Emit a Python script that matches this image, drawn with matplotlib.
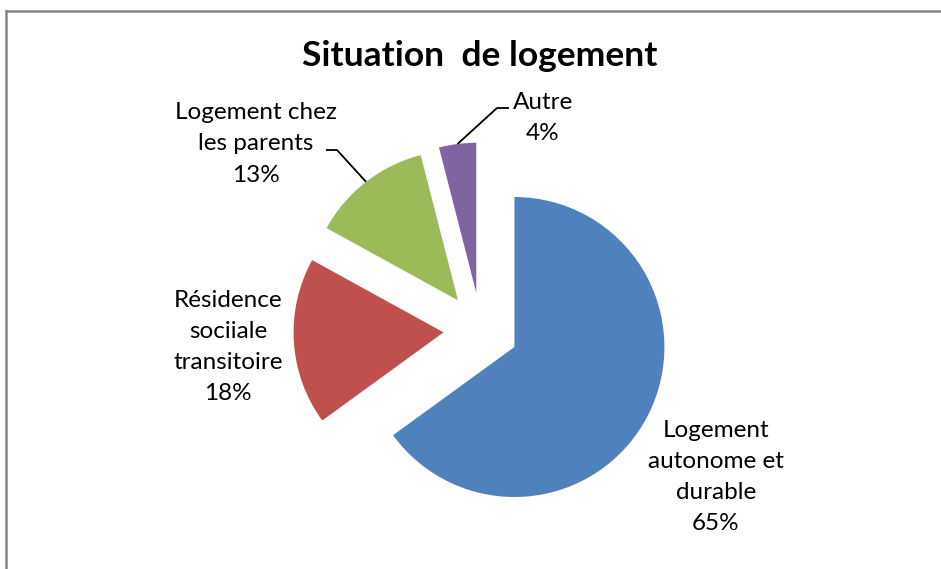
import matplotlib.pyplot as plt
from matplotlib.lines import Line2D
import numpy as np

# data
categories = ['Logement\nautonome et\ndurable', 'Résidence\nsociiale\ntransitoire',
              'Logement chez\nles parents', 'Autre']
shares = [65, 18, 13, 4]
colors = ['#4F81BD', '#C0504D', '#9BBB59', '#8064A2']

# canvas geometry (pixels)
W, H = 941, 569
CX, CY, R = 481, 330, 150


def px(x, y):
    # pixel position -> data coordinates of the pie axes
    return (x - CX) / R, (CY - y) / R


plt.rcParams['font.family'] = ['Lato', 'DejaVu Sans']

fig = plt.figure(figsize=(W / 100, H / 100), dpi=100)
ax = fig.add_axes([0, 0, 1, 1])

wedges, _ = ax.pie(shares, colors=colors, startangle=90, counterclock=False,
                   explode=[0.25] * len(shares), radius=1,
                   wedgeprops=dict(linewidth=0))
ax.set_aspect('auto')
ax.set_xlim((0 - CX) / R, (W - CX) / R)
ax.set_ylim((CY - H) / R, CY / R)
ax.axis('off')

# labels: text centre in pixels, whether a leader line is drawn
label_pos = [(716, 477), (228, 347), (256, 144), (543, 118)]
leader_start = [None, None, (326, 150), (509, 108)]
leader_knee = [None, None, (337, 150), (497, 108)]

for w, cat, pct, (lx, ly), st, kn in zip(wedges, categories, shares,
                                         label_pos, leader_start, leader_knee):
    ax.text(*px(lx, ly), f'{cat}\n{pct}%', ha='center', va='center',
            fontsize=17.5, linespacing=1.6, color='black')
    if st is not None:
        mid = np.deg2rad((w.theta1 + w.theta2) / 2)
        ex = w.center[0] + w.r * np.cos(mid)
        ey = w.center[1] + w.r * np.sin(mid)
        xs = [px(*st)[0], px(*kn)[0], ex]
        ys = [px(*st)[1], px(*kn)[1], ey]
        ax.plot(xs, ys, color='black', lw=1.3, solid_capstyle='butt')

ax.text(*px(480, 56), 'Situation  de logement', ha='center', va='center',
        fontsize=25.5, fontweight='bold')

# outer chart border, partly cut by the image edges
bx, by = 6 / W, 1 - 11 / H
fig.add_artist(Line2D([bx, 1.01], [by, by], transform=fig.transFigure,
                      color='#868686', lw=1.8))
fig.add_artist(Line2D([bx, bx], [by, -0.01], transform=fig.transFigure,
                      color='#868686', lw=1.8))

fig.savefig('out.png', dpi=100)
